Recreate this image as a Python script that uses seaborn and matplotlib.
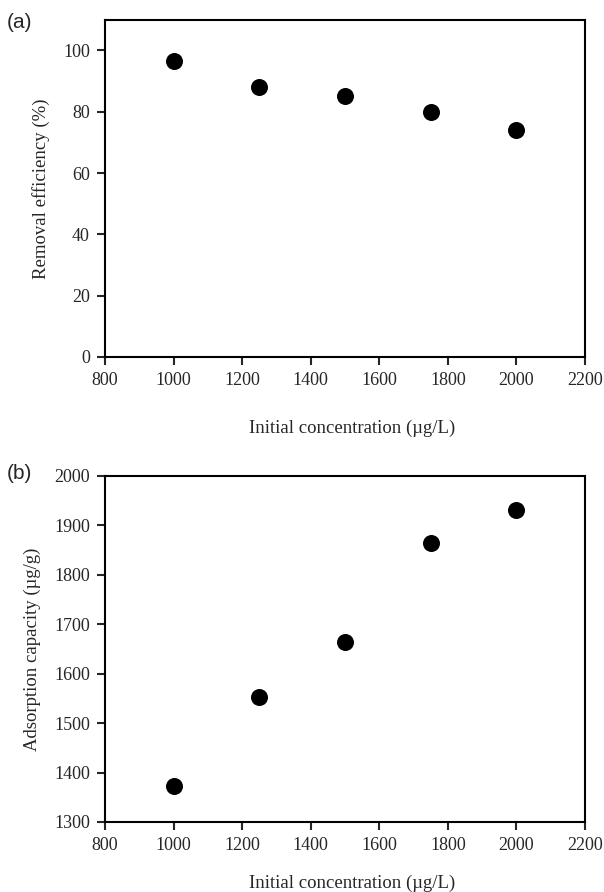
import matplotlib
matplotlib.use("Agg")
import matplotlib.pyplot as plt
import seaborn as sns
import pandas as pd

conc = [1000, 1250, 1500, 1750, 2000]
removal = [96.5, 88.0, 85.0, 80.0, 74.0]
capacity = [1372, 1552, 1664, 1865, 1932]

x_ticks = [800, 1000, 1200, 1400, 1600, 1800, 2000, 2200]
ya_ticks = [0, 20, 40, 60, 80, 100]
yb_ticks = [1300, 1400, 1500, 1600, 1700, 1800, 1900, 2000]

sns.set_style("ticks")
plt.rcParams['font.family'] = ['Liberation Serif', 'DejaVu Serif']

fig = plt.figure(figsize=(6.04, 8.92), dpi=100)
ax1 = fig.add_axes([0.174, 0.5998, 0.7945, 0.378])
ax2 = fig.add_axes([0.174, 0.0785, 0.7945, 0.388])

dfa = pd.DataFrame({"x": conc, "y": removal})
dfb = pd.DataFrame({"x": conc, "y": capacity})

for ax, df, yt, ylim, ylabel, xpad in [
    (ax1, dfa, ya_ticks, (0, 110), "Removal efficiency (%)", 22),
    (ax2, dfb, yb_ticks, (1300, 2000), "Adsorption capacity (\u00b5g/g)", 15),
]:
    sns.scatterplot(data=df, x="x", y="y", ax=ax, s=150, color="black",
                    edgecolor="black", linewidth=0, zorder=3)
    ax.set_xlim(800, 2200)
    ax.set_ylim(*ylim)
    ax.set_xticks(x_ticks)
    ax.set_yticks(yt)
    ax.tick_params(direction="out", length=6, width=1.5, labelsize=13,
                   top=False, right=False, pad=5)
    for sp in ax.spines.values():
        sp.set_linewidth(1.5)
        sp.set_color("black")
    ax.set_ylabel(ylabel, fontsize=13.5, labelpad=9)
    ax.set_xlabel("Initial concentration (\u00b5g/L)", fontsize=13.5, labelpad=xpad)
    ax.xaxis.label.set_x(0.515)

fig.text(0.012, 0.975, "(a)", fontsize=15, family=['Liberation Sans', 'DejaVu Sans'],
         va="center", ha="left")
fig.text(0.012, 0.469, "(b)", fontsize=15, family=['Liberation Sans', 'DejaVu Sans'],
         va="center", ha="left")

fig.savefig("out.png", dpi=100, facecolor="white")
